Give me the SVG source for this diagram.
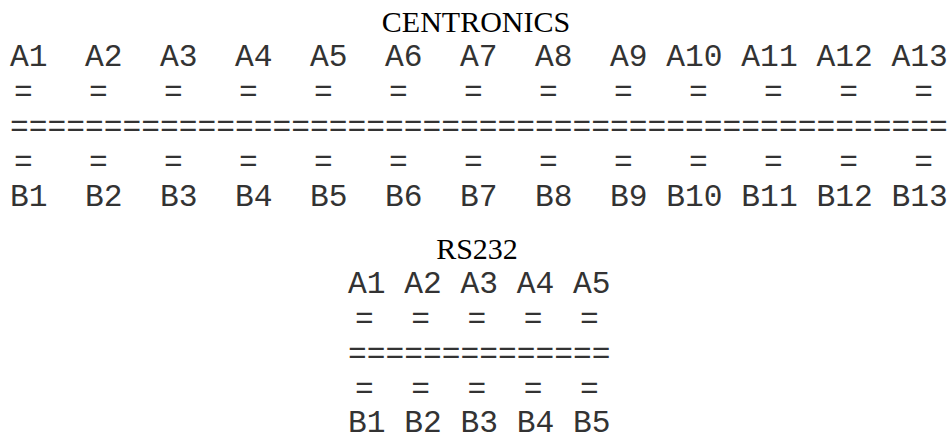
<svg xmlns="http://www.w3.org/2000/svg" width="947" height="439" viewBox="0 0 947 439">
  <style>
    .title { font-family: "Liberation Serif", "Times New Roman", serif; font-size: 30px; fill: #000; text-anchor: middle; }
    .pins { font-family: "Liberation Mono", "Courier New", monospace; font-size: 31.25px; fill: #333; white-space: pre; }
  </style>
  <rect width="947" height="439" fill="#fff"/>

  <!-- 13-pin pair connector -->
  <g id="centronics">
    <text class="title" x="476" y="32">CENTRONICS</text>
    <text class="pins" x="10" y="66" xml:space="preserve">A1  A2  A3  A4  A5  A6  A7  A8  A9 A10 A11 A12 A13</text>
    <text class="pins" x="14" y="101" xml:space="preserve">=   =   =   =   =   =   =   =   =   =   =   =   =</text>
    <text class="pins" x="10" y="136" xml:space="preserve">==================================================</text>
    <text class="pins" x="14" y="171" xml:space="preserve">=   =   =   =   =   =   =   =   =   =   =   =   =</text>
    <text class="pins" x="10" y="206" xml:space="preserve">B1  B2  B3  B4  B5  B6  B7  B8  B9 B10 B11 B12 B13</text>
  </g>

  <!-- 5-pin pair connector -->
  <g id="rs232">
    <text class="title" x="477" y="259">RS232</text>
    <text class="pins" x="348" y="293" xml:space="preserve">A1 A2 A3 A4 A5</text>
    <text class="pins" x="355" y="328" xml:space="preserve">=  =  =  =  =</text>
    <text class="pins" x="348" y="363" xml:space="preserve">==============</text>
    <text class="pins" x="355" y="398" xml:space="preserve">=  =  =  =  =</text>
    <text class="pins" x="348" y="432" xml:space="preserve">B1 B2 B3 B4 B5</text>
  </g>
</svg>
